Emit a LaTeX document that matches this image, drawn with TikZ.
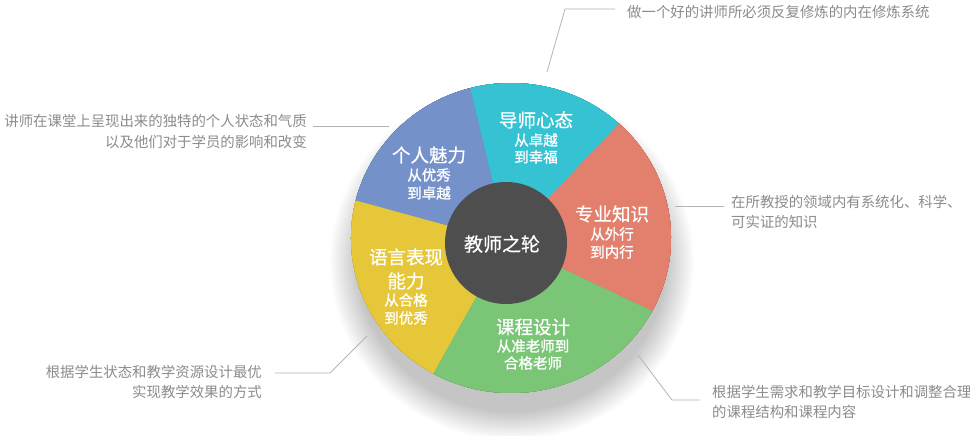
\documentclass[tikz,border=0pt]{standalone}
\usepackage{fontspec}
\setmainfont{Noto Sans CJK SC}
\newfontfamily\ttlfont{Noto Sans CJK SC}[FakeBold=0.5]
\newfontfamily\subfont{Noto Sans CJK SC}[FakeBold=1.1]
\usetikzlibrary{calc}
\definecolor{cCyan}{HTML}{35C3D3}
\definecolor{cBlue}{HTML}{7591C9}
\definecolor{cYellow}{HTML}{E7C73A}
\definecolor{cGreen}{HTML}{7BC577}
\definecolor{cRed}{HTML}{E27F6D}
\definecolor{dCyan}{HTML}{2CA5B3}
\definecolor{dBlue}{HTML}{6379AA}
\definecolor{dYellow}{HTML}{C8A934}
\definecolor{dGreen}{HTML}{68A862}
\definecolor{dRed}{HTML}{C06A5E}
\definecolor{cCenter}{HTML}{4E4E4E}
\definecolor{cNote}{HTML}{8C8C8C}
\definecolor{cLine}{HTML}{B4B4B4}
\newcommand\piesector[3]{%
  \fill[#1] (A) -- ($(C)+(#2:160pt and 155pt)$)
    arc[start angle=#2, end angle=#3, x radius=160pt, y radius=155pt] -- cycle;}
\begin{document}
\begin{tikzpicture}[x=1pt,y=1pt,
  note/.style={inner sep=0pt, text=cNote, font=\fontsize{14.4}{20}\selectfont},
  ttl/.style={inner sep=0pt, text=white, font=\ttlfont\fontsize{18.5}{20}\selectfont},
  sub/.style={inner sep=0pt, text=white, font=\subfont\fontsize{14.5}{17}\selectfont},
  callline/.style={draw=cLine, line width=0.8pt}]
\useasboundingbox (0,0) rectangle (970,-436);
\fill[white] (0,0) rectangle (970,-436);
\coordinate (C) at (511,-238);
\coordinate (A) at (507,-242);
% soft shadow
\foreach \i in {0,...,28}{
  \pgfmathsetmacro\rxx{154+\i}
  \pgfmathsetmacro\ryy{150+\i}
  \fill[black, opacity=0.008] (512,-262) ellipse[x radius=\rxx pt, y radius=\ryy pt];
}
% side of the wheel
\foreach \d in {1,...,10}{
  \begin{scope}[yshift=-\d pt]
    \piesector{dCyan}{47.5}{104.8}
    \piesector{dBlue}{104.8}{166}
    \piesector{dYellow}{166}{241}
    \piesector{dGreen}{241}{332}
    \piesector{dRed}{332}{407.5}
  \end{scope}
}
% face of the wheel
\piesector{cCyan}{47.5}{104.8}
\piesector{cBlue}{104.8}{166}
\piesector{cYellow}{166}{241}
\piesector{cGreen}{241}{332}
\piesector{cRed}{332}{407.5}
% centre
\node[circle, fill=cCenter, minimum size=122pt, inner sep=0pt] (hub) at (506,-243) {};
\node[ttl, font=\ttlfont\fontsize{19}{20}\selectfont] (hubt) at (502,-244) {教师之轮};
% segment labels
\node[ttl] (s1a) at (536,-120) {导师心态};
\node[sub] (s1b) at (536,-140) {从卓越};
\node[sub] (s1c) at (536,-157) {到幸福};
\node[ttl] (s2a) at (429,-155) {个人魅力};
\node[sub] (s2b) at (429,-175) {从优秀};
\node[sub] (s2c) at (429,-193) {到卓越};
\node[ttl] (s3a) at (612,-214) {专业知识};
\node[sub] (s3b) at (612,-234) {从外行};
\node[sub] (s3c) at (612,-252) {到内行};
\node[ttl] (s4a) at (406,-257) {语言表现};
\node[ttl] (s4b) at (406,-281) {能力};
\node[sub] (s4c) at (406,-300) {从合格};
\node[sub] (s4d) at (406,-318) {到优秀};
\node[ttl] (s5a) at (533,-327) {课程设计};
\node[sub] (s5b) at (533,-346) {从准老师到};
\node[sub] (s5c) at (533,-363) {合格老师};
% callouts
\node[note, anchor=west] (n1) at (627,-12) {做一个好的讲师所必须反复修炼的内在修炼系统};
\coordinate (l1a) at (547,-72);
\coordinate (l1b) at (565,-9);
\coordinate (l1c) at (615,-9);
\draw[callline] (l1a) -- (l1b) -- (l1c);

\node[note, anchor=east] (n2a) at (307,-121) {讲师在课堂上呈现出来的独特的个人状态和气质};
\node[note, anchor=east] (n2b) at (307,-142) {以及他们对于学员的影响和改变};
\coordinate (l2a) at (313,-126);
\coordinate (l2b) at (389,-126);
\draw[callline] (l2a) -- (l2b);

\node[note, anchor=west] (n3a) at (731,-202) {在所教授的领域内有系统化、科学、};
\node[note, anchor=west] (n3b) at (731,-222) {可实证的知识};
\coordinate (l3a) at (675,-206);
\coordinate (l3b) at (724,-206);
\draw[callline] (l3a) -- (l3b);

\node[note, anchor=west] (n4a) at (712,-392) {根据学生需求和教学目标设计和调整合理};
\node[note, anchor=west] (n4b) at (712,-412) {的课程结构和课程内容};
\coordinate (l4a) at (638,-355);
\coordinate (l4b) at (672,-400);
\coordinate (l4c) at (700,-400);
\draw[callline] (l4a) -- (l4b) -- (l4c);

\node[note, anchor=east] (n5a) at (262,-372) {根据学生状态和教学资源设计最优};
\node[note, anchor=east] (n5b) at (262,-392) {实现教学效果的方式};
\coordinate (l5a) at (367,-336);
\coordinate (l5b) at (330,-373);
\coordinate (l5c) at (275,-373);
\draw[callline] (l5a) -- (l5b) -- (l5c);
\end{tikzpicture}
\end{document}
